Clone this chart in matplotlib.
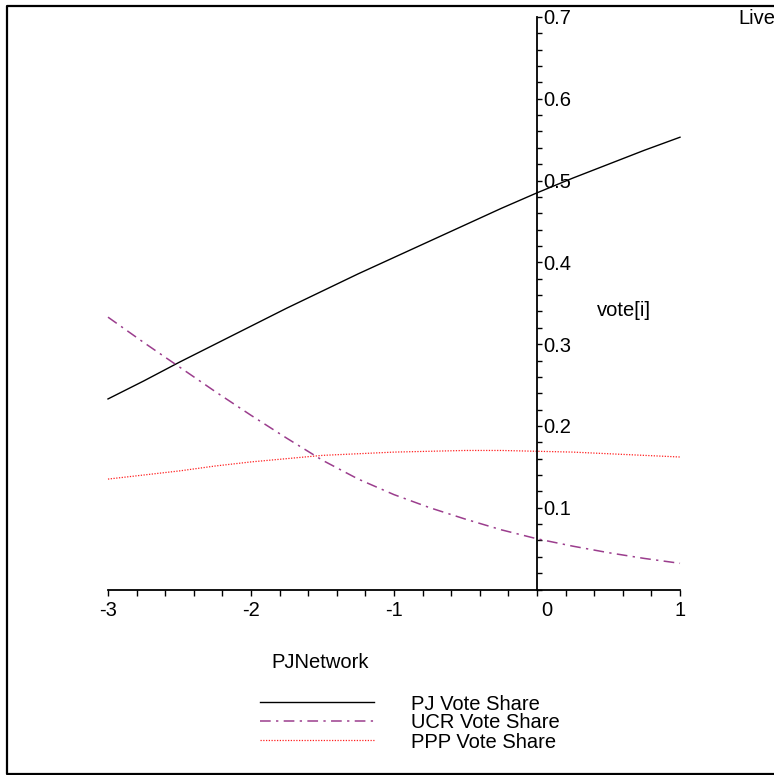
import matplotlib
matplotlib.use('Agg')
from matplotlib import pyplot as plt
from matplotlib.lines import Line2D
from matplotlib.ticker import MultipleLocator
import matplotlib.transforms as mtransforms

plt.rcParams['font.family'] = ['Liberation Sans', 'DejaVu Sans']

# values
pj_network = [-3, -2.75, -2.5, -2.25, -2, -1.75, -1.5, -1.25, -1,
              -0.75, -0.5, -0.25, 0, 0.25, 0.5, 0.75, 1]
pj_share = [0.233, 0.255, 0.278, 0.300, 0.322, 0.344, 0.365, 0.386, 0.406,
            0.426, 0.446, 0.466, 0.485, 0.503, 0.520, 0.537, 0.553]
ucr_share = [0.333, 0.302, 0.272, 0.242, 0.213, 0.185, 0.158, 0.135, 0.116,
             0.100, 0.086, 0.073, 0.062, 0.053, 0.045, 0.038, 0.032]
ppp_share = [0.135, 0.140, 0.145, 0.151, 0.156, 0.160, 0.164, 0.166, 0.168,
             0.169, 0.170, 0.170, 0.169, 0.168, 0.166, 0.164, 0.162]
series_names = ['PJ Vote Share', 'UCR Vote Share', 'PPP Vote Share']
x_ticks = [-3, -2, -1, 0, 1]
y_ticks = [0.1, 0.2, 0.3, 0.4, 0.5, 0.6, 0.7]

W, H = 774, 775
fig = plt.figure(figsize=(W / 100, H / 100), dpi=100)
fs = 14.5

# axes box in pixels: x=-3 at 108, x=1 at 680, y=0 at 589.5, y=0.7 at 17
ax = fig.add_axes([108 / W, 1 - 589.5 / H, (680 - 108) / W, (589.5 - 17) / H])
ax.set_xlim(-3, 1)
ax.set_ylim(0, 0.7)

purple = '#9b3d8d'
styles = [
    dict(color='black', lw=1.0, ls='-'),
    dict(color=purple, lw=1.1, ls=(0, (7, 3.5, 1.5, 3.5))),
    dict(color='#ff2020', lw=0.9, ls=(0, (1, 1.2))),
]
for vals, st in zip([pj_share, ucr_share, ppp_share], styles):
    ax.plot(pj_network, vals, **st, clip_on=False)

# maple style axes crossing at the origin
ax.spines['top'].set_visible(False)
ax.spines['left'].set_visible(False)
ax.spines['right'].set_position(('data', 0))
ax.spines['bottom'].set_position(('data', 0))
for s in ['right', 'bottom']:
    ax.spines[s].set_linewidth(1.3)
ax.yaxis.tick_right()
ax.set_xticks(x_ticks)
ax.set_yticks(y_ticks)
ax.set_xticklabels(['-3', '-2', '-1', '0', '1'])
ax.set_yticklabels([str(v) for v in y_ticks])
ax.xaxis.set_minor_locator(MultipleLocator(0.2))
ax.yaxis.set_minor_locator(MultipleLocator(0.02))
ax.tick_params(axis='x', which='both', direction='out', length=4, width=1,
               labelsize=fs, pad=4)
ax.tick_params(axis='y', which='both', direction='out', length=3.5, width=1,
               labelsize=fs, pad=1)
ax.patch.set_visible(False)

# the "0" label sits just right of the vertical axis
zero = ax.xaxis.get_major_ticks()[3].label1
zero.set_transform(zero.get_transform() +
                   mtransforms.ScaledTranslation(10 / 100, 0, fig.dpi_scale_trans))

fig.text(624 / W, 1 - 310 / H, 'vote[i]', fontsize=fs, ha='center', va='center')
fig.text(320 / W, 1 - 662 / H, 'PJNetwork', fontsize=fs, ha='center', va='center')
fig.text(757 / W, 1 - 19 / H, 'Live', fontsize=fs, ha='center', va='center')

# legend
leg_y = [702, 721, 740]
for name, st, yy in zip(series_names, styles, leg_y):
    fig.add_artist(Line2D([260 / W, 374 / W], [1 - yy / H, 1 - yy / H],
                          transform=fig.transFigure, **st))
    fig.text(411 / W, 1 - (yy + 2) / H, name, fontsize=fs, ha='left', va='center')

# outer frame (left, top, bottom)
fig.add_artist(Line2D([1.0, 7 / W, 7 / W, 1.0],
                      [1 - 6 / H, 1 - 6 / H, 1 - 774 / H, 1 - 774 / H],
                      transform=fig.transFigure, color='black', lw=1.6))

fig.savefig('out.png', dpi=100)
